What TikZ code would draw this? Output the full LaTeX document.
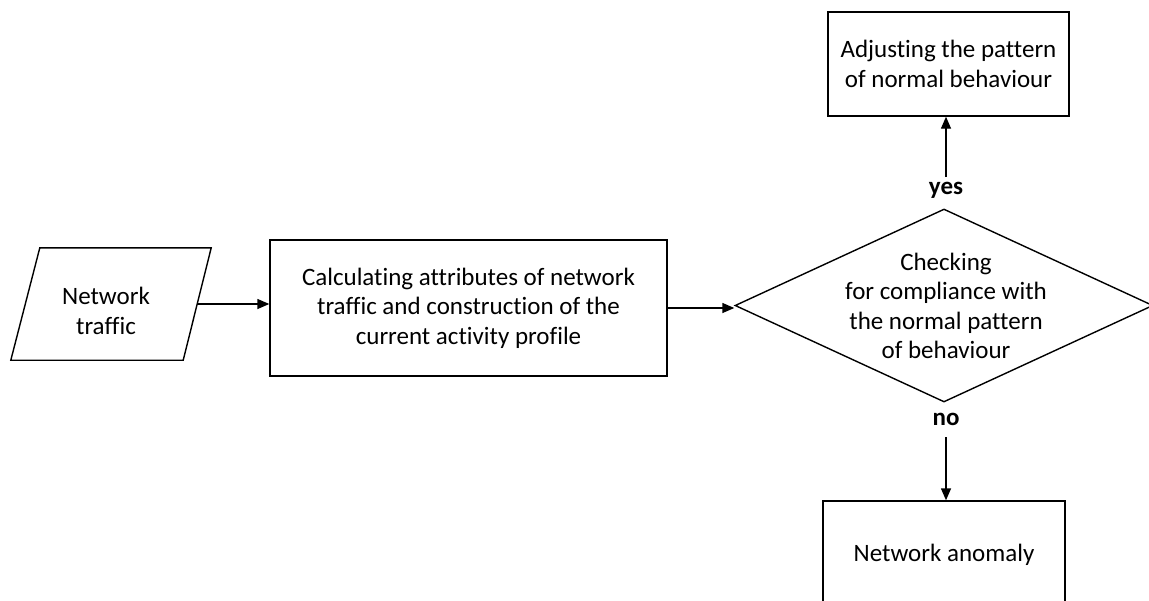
\documentclass[tikz,border=0pt]{standalone}
\usepackage{fontspec}
\setmainfont{Carlito}[Ligatures=NoCommon]
\usetikzlibrary{shapes.geometric,arrows.meta}

\begin{document}
\begin{tikzpicture}[x=1pt,y=-1pt,
  every node/.style={font=\fontsize{25}{29.5}\selectfont, align=center, inner sep=0pt},
  outline/.style={draw, line width=1.4pt},
  box/.style={outline, rectangle},
  decision/.style={outline, diamond, minimum width=418pt, minimum height=193pt},
  flow/.style={line width=1.4pt, -{Triangle[length=12pt,width=10pt]}},
  answer/.style={font=\fontsize{25}{29.5}\selectfont\bfseries}
]
\clip (0,0) rectangle (1149,600);
\fill[white] (0,0) rectangle (1149,600);

% input: traffic (parallelogram drawn round an invisible frame)
\node[minimum width=200pt, minimum height=112pt] (nt) at (111,304) {};
\draw[line width=1.4pt] ([xshift=29pt]nt.north west) -- (nt.north east)
  -- ([xshift=-28pt]nt.south east) -- (nt.south west) -- cycle;
\node (nttext) at (106,311) {Network\\traffic};

% profile construction
\node[box, minimum width=397pt, minimum height=136pt] (calc) at (468.5,308)
  {Calculating attributes of network\\traffic and construction of the\\current activity profile};

% compliance check
\node[decision] (chk) at (944,305.5) {};
\node (chktext) at (946,306) {Checking\\for compliance with\\the normal pattern\\of behaviour};

% outcomes
\node[box, minimum width=241pt, minimum height=104pt] (adj) at (948.5,64)
  {Adjusting the pattern\\of normal behaviour};
\node[box, minimum width=242pt, minimum height=108pt] (anom) at (944,555)
  {Network anomaly};

% branch labels
\node[answer] (yes) at (946,190) {yes};
\node[answer] (no) at (946,419) {no};
\coordinate (yesfrom) at (946,177);
\coordinate (nofrom) at (946,437);

% connectors
\draw[flow] ([xshift=-14pt]nt.east) -- (nt.east -| calc.west);
\draw[flow] (calc.east) -- (calc.east -| chk.west);
\draw[flow] (yesfrom) -- (yesfrom |- adj.south);
\draw[flow] (nofrom) -- (nofrom |- anom.north);
\end{tikzpicture}
\end{document}
